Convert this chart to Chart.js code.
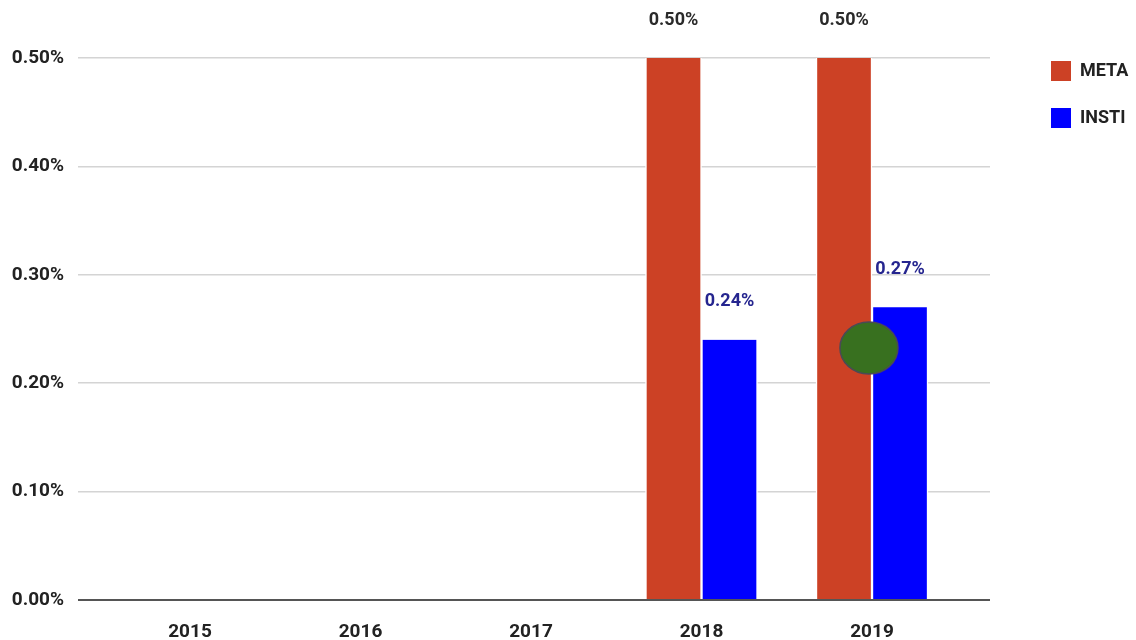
<!DOCTYPE html>
<html>
<head>
<meta charset="utf-8">
<script src="https://cdn.jsdelivr.net/npm/chart.js@4/dist/chart.umd.min.js"></script>
<style>
  html, body { margin: 0; padding: 0; background: #fff; }
  #wrap { width: 1136px; height: 640px; }
</style>
</head>
<body>
<div id="wrap"><canvas id="chart" width="1136" height="640"></canvas></div>
<script>
// năm + giá trị (%)
var years = ['2015', '2016', '2017', '2018', '2019'];
var metaVals = [null, null, null, 0.50, 0.50];
var instiVals = [null, null, null, 0.24, 0.27];
var yTicks = [0, 0.1, 0.2, 0.3, 0.4, 0.5];

// chấm xanh đè lên cột 2019
var marker = { x: 2018.982, y: 0.2325, rx: 29, ry: 26 };

var FONT = 'Roboto';
var RED = '#cc4125';
var BLUE = '#0000ff';

function fmtPct(v) { return Number(v).toFixed(2) + '%'; }

// nhãn giá trị phía trên cột
var valueLabels = {
  id: 'valueLabels',
  afterDatasetsDraw: function (chart) {
    var ctx = chart.ctx;
    ctx.save();
    ctx.font = 'bold 18px ' + FONT;
    ctx.textAlign = 'center';
    ctx.textBaseline = 'middle';
    chart.data.datasets.forEach(function (ds, di) {
      var meta = chart.getDatasetMeta(di);
      meta.data.forEach(function (el, i) {
        var v = ds.data[i];
        if (v == null) return;
        ctx.fillStyle = ds.labelColor;
        ctx.fillText(fmtPct(v), el.x, el.y - 38);
      });
    });
    ctx.restore();
  }
};

// đặt legend bên phải, cố định kích thước + vị trí
var legendPlace = {
  id: 'legendPlace',
  beforeLayout: function (chart) {
    var lg = chart.legend;
    if (!lg || lg.__patched) return;
    var fit = lg.fit;
    lg.fit = function () { fit.call(this); this.width = 146; };
    lg.__patched = true;
  },
  afterLayout: function (chart) {
    var lg = chart.legend;
    if (!lg) return;
    var pad = lg.options.labels.padding;
    var dx = 1051 - (lg.left + pad);
    var dy = 61 - (lg.top + pad);
    lg.left += dx; lg.right += dx;
    lg.top += dy; lg.bottom += dy;
  }
};

var markerDraw = {
  id: 'markerDraw',
  afterDraw: function (chart) {
    var ctx = chart.ctx;
    var px = chart.scales.x.getPixelForValue(marker.x);
    var py = chart.scales.y.getPixelForValue(marker.y);
    ctx.save();
    ctx.beginPath();
    ctx.ellipse(px, py, marker.rx, marker.ry, 0, 0, Math.PI * 2);
    ctx.fillStyle = '#38701f';
    ctx.fill();
    ctx.lineWidth = 1.5;
    ctx.strokeStyle = '#4a4a55';
    ctx.stroke();
    ctx.restore();
  }
};

new Chart(document.getElementById('chart'), {
  type: 'bar',
  data: {
    labels: years,
    datasets: [
      {
        label: 'META', data: metaVals, backgroundColor: RED,
        borderColor: '#fff', borderWidth: { left: 1.5, right: 1.5 }, borderSkipped: false,
        barThickness: 56, labelColor: '#2a2a2a'
      },
      {
        label: 'INSTI', data: instiVals, backgroundColor: BLUE,
        borderColor: '#fff', borderWidth: { left: 1.5, right: 1.5 }, borderSkipped: false,
        barThickness: 56, labelColor: '#25258f'
      }
    ]
  },
  options: {
    responsive: false,
    devicePixelRatio: 1,
    animation: false,
    layout: { padding: { top: 58, left: 12, right: 0, bottom: 0 } },
    scales: {
      x: {
        type: 'linear',
        offset: false,
        min: 2015 - 0.657,
        max: 2019 + 0.692,
        afterBuildTicks: function (axis) {
          axis.ticks = years.map(function (y) { return { value: Number(y) }; });
        },
        afterFit: function (axis) { axis.height = 40; },
        grid: { display: false },
        border: { display: false },
        ticks: {
          padding: 13,
          color: '#222',
          font: { family: FONT, size: 19, weight: 'bold' },
          callback: function (v) { return String(v); }
        }
      },
      y: {
        min: 0,
        max: 0.5,
        afterBuildTicks: function (axis) {
          axis.ticks = yTicks.map(function (v) { return { value: v }; });
        },
        afterFit: function (axis) { axis.width = 66; },
        border: { display: false },
        grid: {
          drawTicks: false,
          color: function (c) { return c.tick && c.tick.value === 0 ? '#555' : '#d4d4d4'; },
          lineWidth: function (c) { return c.tick && c.tick.value === 0 ? 2 : 1.5; }
        },
        ticks: {
          padding: 14,
          color: '#222',
          font: { family: FONT, size: 19, weight: 'bold' },
          callback: function (v) { return fmtPct(v); }
        }
      }
    },
    plugins: {
      tooltip: { enabled: false },
      legend: {
        position: 'right',
        align: 'start',
        labels: {
          boxWidth: 20,
          boxHeight: 20,
          padding: 27,
          color: '#222',
          font: { family: FONT, size: 18, weight: 'bold' },
          generateLabels: function (chart) {
            var items = Chart.defaults.plugins.legend.labels.generateLabels(chart);
            items.forEach(function (it) { it.lineWidth = 0; it.strokeStyle = 'rgba(0,0,0,0)'; });
            return items;
          }
        }
      }
    }
  },
  plugins: [valueLabels, legendPlace, markerDraw]
});
</script>
</body>
</html>
